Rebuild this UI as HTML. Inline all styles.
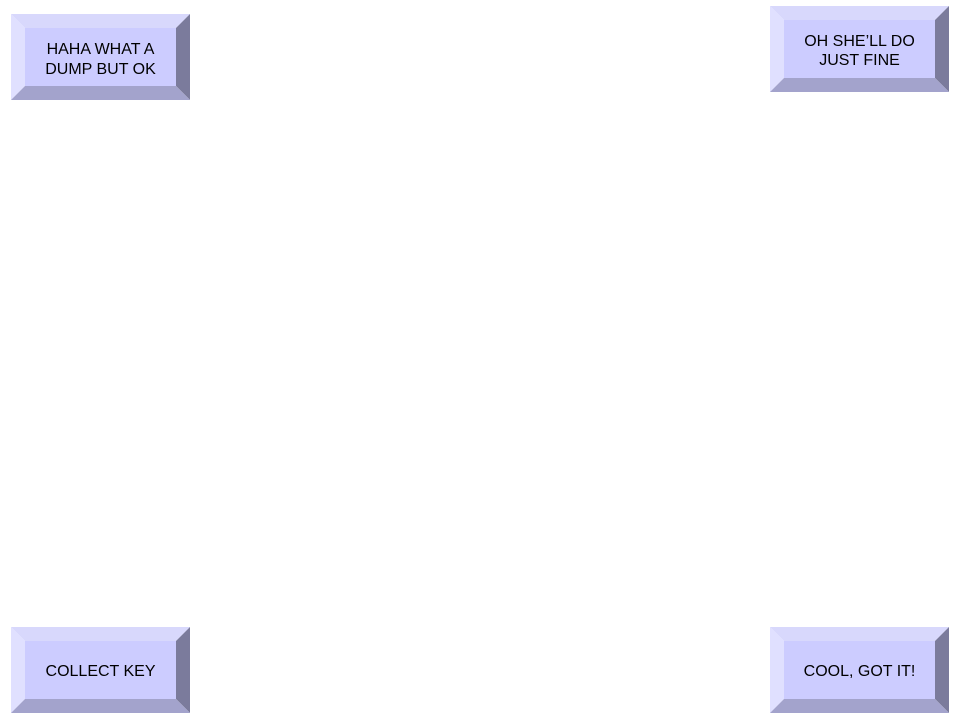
<!DOCTYPE html>
<html><head><meta charset="utf-8"><style>
html,body{margin:0;padding:0;background:#fff;width:960px;height:720px;overflow:hidden}
text{font-family:"Liberation Sans",sans-serif;font-size:16px;fill:#000;text-anchor:middle}
</style></head><body>
<svg width="960" height="720" xmlns="http://www.w3.org/2000/svg">
<g transform="translate(11,14)">
<polygon points="0,0 179,0 165,14 14,14" fill="#d8d8fc"/>
<polygon points="0,0 14,14 14,72 0,86" fill="#e0e0ff"/>
<polygon points="179,0 179,86 165,72 165,14" fill="#7b7b9c"/>
<polygon points="0,86 179,86 165,72 14,72" fill="#a3a3cc"/>
<rect x="14" y="14" width="151" height="58" fill="#ccccff"/>
<text x="89.5" y="40">HAHA WHAT A</text>
<text x="89.5" y="60">DUMP BUT OK</text>
</g>
<g transform="translate(770,6)">
<polygon points="0,0 179,0 165,14 14,14" fill="#d8d8fc"/>
<polygon points="0,0 14,14 14,72 0,86" fill="#e0e0ff"/>
<polygon points="179,0 179,86 165,72 165,14" fill="#7b7b9c"/>
<polygon points="0,86 179,86 165,72 14,72" fill="#a3a3cc"/>
<rect x="14" y="14" width="151" height="58" fill="#ccccff"/>
<text x="89.5" y="40">OH SHE’LL DO</text>
<text x="89.5" y="59">JUST FINE</text>
</g>
<g transform="translate(11,627)">
<polygon points="0,0 179,0 165,14 14,14" fill="#d8d8fc"/>
<polygon points="0,0 14,14 14,72 0,86" fill="#e0e0ff"/>
<polygon points="179,0 179,86 165,72 165,14" fill="#7b7b9c"/>
<polygon points="0,86 179,86 165,72 14,72" fill="#a3a3cc"/>
<rect x="14" y="14" width="151" height="58" fill="#ccccff"/>
<text x="89.5" y="49">COLLECT KEY</text>
</g>
<g transform="translate(770,627)">
<polygon points="0,0 179,0 165,14 14,14" fill="#d8d8fc"/>
<polygon points="0,0 14,14 14,72 0,86" fill="#e0e0ff"/>
<polygon points="179,0 179,86 165,72 165,14" fill="#7b7b9c"/>
<polygon points="0,86 179,86 165,72 14,72" fill="#a3a3cc"/>
<rect x="14" y="14" width="151" height="58" fill="#ccccff"/>
<text x="89.5" y="49">COOL, GOT IT!</text>
</g>
</svg>
</body></html>
